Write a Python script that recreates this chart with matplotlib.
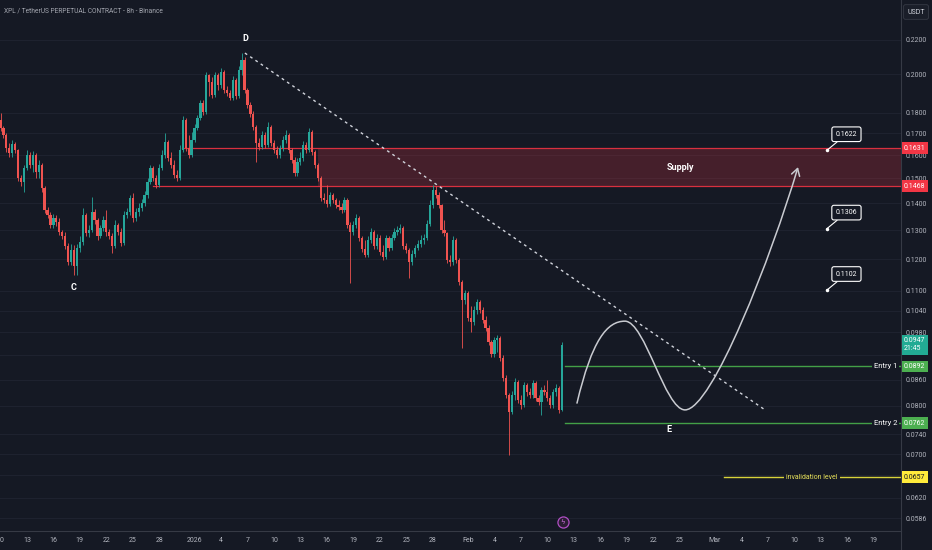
import numpy as np
import pandas as pd
import matplotlib
matplotlib.use("Agg")
import matplotlib.pyplot as plt
import matplotlib.dates as mdates
from matplotlib.path import Path
from matplotlib.patches import FancyArrowPatch, Rectangle
from matplotlib.ticker import NullLocator
from matplotlib.lines import Line2D

plt.rcParams['font.family'] = ['Liberation Sans Narrow', 'Roboto', 'DejaVu Sans']

# ---------------- data ----------------
first_open = 0.1763
closes = [
    0.1725, 0.1692, 0.1632, 0.1610, 0.1650, 0.1623, 0.1502, 0.1485, 0.1544, 0.1601,
    0.1557, 0.1601, 0.1527, 0.1557, 0.1461, 0.1375, 0.1356, 0.1319, 0.1345, 0.1330,
    0.1294, 0.1279, 0.1245, 0.1191, 0.1231, 0.1178, 0.1238, 0.1258, 0.1356, 0.1290,
    0.1301, 0.1367, 0.1337, 0.1279, 0.1308, 0.1337, 0.1294, 0.1279, 0.1245, 0.1319,
    0.1294, 0.1255, 0.1356, 0.1367, 0.1421, 0.1345, 0.1367, 0.1383, 0.1402, 0.1433,
    0.1485, 0.1544, 0.1502, 0.1473, 0.1544, 0.1601, 0.1659, 0.1588, 0.1557, 0.1515,
    0.1502, 0.1623, 0.1763, 0.1632, 0.1601, 0.1669, 0.1725, 0.1773, 0.1848, 0.1803,
    0.1997, 0.1959, 0.1890, 0.1997, 0.1943, 0.2014, 0.1916, 0.1900, 0.1874, 0.1970,
    0.1884, 0.2025, 0.2082, 0.1916, 0.1838, 0.1793, 0.1730, 0.1655, 0.1637, 0.1692,
    0.1646, 0.1730, 0.1655, 0.1623, 0.1601, 0.1632, 0.1669, 0.1692, 0.1623, 0.1579,
    0.1523, 0.1570, 0.1588, 0.1646, 0.1623, 0.1706, 0.1614, 0.1557, 0.1502, 0.1421,
    0.1413, 0.1398, 0.1433, 0.1413, 0.1394, 0.1386, 0.1375, 0.1413, 0.1319, 0.1294,
    0.1319, 0.1345, 0.1272, 0.1234, 0.1214, 0.1265, 0.1294, 0.1245, 0.1272, 0.1224,
    0.1207, 0.1272, 0.1238, 0.1272, 0.1294, 0.1301, 0.1308, 0.1245, 0.1231, 0.1191,
    0.1217, 0.1238, 0.1251, 0.1265, 0.1272, 0.1323, 0.1394, 0.1453, 0.1433, 0.1394,
    0.1301, 0.1290, 0.1197, 0.1191, 0.1265, 0.1197, 0.1127, 0.1072, 0.1093, 0.1020,
    0.1009, 0.1043, 0.1066, 0.1043, 0.1014, 0.0992, 0.0954, 0.0923, 0.0960, 0.0965,
    0.0913, 0.0864, 0.0824, 0.0786, 0.0824, 0.0854, 0.0813, 0.0802, 0.0847, 0.0831,
    0.0824, 0.0852, 0.0817, 0.0808, 0.0836, 0.0831, 0.0817, 0.0802, 0.0831, 0.0840,
    0.0791, 0.0947,
]
highs = [
    0.1798, 0.1734, 0.1701, 0.1655, 0.1669, 0.1659, 0.1628, 0.1515, 0.1557, 0.1623,
    0.1614, 0.1619, 0.1610, 0.1579, 0.1566, 0.1469, 0.1386, 0.1367, 0.1360, 0.1356,
    0.1345, 0.1301, 0.1294, 0.1255, 0.1251, 0.1248, 0.1251, 0.1279, 0.1383, 0.1363,
    0.1319, 0.1425, 0.1379, 0.1345, 0.1319, 0.1352, 0.1375, 0.1305, 0.1290, 0.1337,
    0.1326, 0.1308, 0.1371, 0.1383, 0.1433, 0.1441, 0.1383, 0.1402, 0.1417, 0.1449,
    0.1502, 0.1557, 0.1553, 0.1515, 0.1561, 0.1623, 0.1701, 0.1669, 0.1614, 0.1579,
    0.1536, 0.1646, 0.1783, 0.1773, 0.1692, 0.1706, 0.1744, 0.1788, 0.1864, 0.1864,
    0.2014, 0.2003, 0.1986, 0.2014, 0.2008, 0.2036, 0.2025, 0.1937, 0.1916, 0.1992,
    0.1981, 0.2047, 0.2122, 0.2099, 0.1927, 0.1853, 0.1808, 0.1739, 0.1678, 0.1711,
    0.1706, 0.1754, 0.1739, 0.1669, 0.1641, 0.1646, 0.1687, 0.1715, 0.1701, 0.1632,
    0.1592, 0.1588, 0.1614, 0.1664, 0.1659, 0.1725, 0.1715, 0.1623, 0.1566, 0.1510,
    0.1441, 0.1473, 0.1445, 0.1441, 0.1421, 0.1413, 0.1402, 0.1425, 0.1421, 0.1330,
    0.1334, 0.1360, 0.1352, 0.1279, 0.1265, 0.1279, 0.1308, 0.1301, 0.1287, 0.1283,
    0.1248, 0.1283, 0.1279, 0.1287, 0.1308, 0.1315, 0.1323, 0.1315, 0.1255, 0.1238,
    0.1231, 0.1248, 0.1265, 0.1283, 0.1287, 0.1337, 0.1413, 0.1473, 0.1469, 0.1445,
    0.1398, 0.1337, 0.1294, 0.1214, 0.1279, 0.1272, 0.1204, 0.1133, 0.1102, 0.1099,
    0.1054, 0.1054, 0.1075, 0.1072, 0.1051, 0.1025, 0.1000, 0.0960, 0.0968, 0.0973,
    0.0970, 0.0921, 0.0871, 0.0829, 0.0833, 0.0864, 0.0859, 0.0824, 0.0854, 0.0852,
    0.0840, 0.0859, 0.0857, 0.0824, 0.0843, 0.0847, 0.0859, 0.0824, 0.0838, 0.0850,
    0.0845, 0.0955,
]
lows = [
    0.1711, 0.1678, 0.1614, 0.1592, 0.1592, 0.1610, 0.1490, 0.1469, 0.1445, 0.1536,
    0.1544, 0.1527, 0.1502, 0.1502, 0.1445, 0.1363, 0.1345, 0.1308, 0.1308, 0.1315,
    0.1283, 0.1269, 0.1234, 0.1181, 0.1181, 0.1149, 0.1149, 0.1224, 0.1248, 0.1279,
    0.1276, 0.1294, 0.1323, 0.1265, 0.1272, 0.1297, 0.1279, 0.1269, 0.1221, 0.1238,
    0.1283, 0.1245, 0.1248, 0.1345, 0.1356, 0.1330, 0.1334, 0.1352, 0.1371, 0.1390,
    0.1421, 0.1477, 0.1490, 0.1461, 0.1465, 0.1536, 0.1588, 0.1574, 0.1544, 0.1502,
    0.1490, 0.1494, 0.1614, 0.1619, 0.1588, 0.1592, 0.1659, 0.1715, 0.1763, 0.1788,
    0.1793, 0.1884, 0.1874, 0.1879, 0.1916, 0.1927, 0.1900, 0.1884, 0.1864, 0.1864,
    0.1869, 0.1874, 0.1997, 0.1900, 0.1823, 0.1778, 0.1715, 0.1570, 0.1623, 0.1628,
    0.1632, 0.1637, 0.1641, 0.1610, 0.1588, 0.1588, 0.1619, 0.1655, 0.1610, 0.1566,
    0.1510, 0.1510, 0.1557, 0.1574, 0.1610, 0.1614, 0.1601, 0.1544, 0.1490, 0.1410,
    0.1402, 0.1386, 0.1390, 0.1402, 0.1383, 0.1375, 0.1363, 0.1367, 0.1308, 0.1123,
    0.1283, 0.1308, 0.1262, 0.1224, 0.1207, 0.1207, 0.1255, 0.1234, 0.1234, 0.1214,
    0.1197, 0.1201, 0.1227, 0.1231, 0.1265, 0.1283, 0.1290, 0.1234, 0.1221, 0.1139,
    0.1181, 0.1207, 0.1231, 0.1241, 0.1251, 0.1265, 0.1315, 0.1383, 0.1421, 0.1383,
    0.1290, 0.1279, 0.1187, 0.1178, 0.1181, 0.1187, 0.1117, 0.0939, 0.1060, 0.1011,
    0.0981, 0.1000, 0.1031, 0.1034, 0.1006, 0.0984, 0.0946, 0.0916, 0.0916, 0.0928,
    0.0905, 0.0857, 0.0817, 0.0698, 0.0782, 0.0813, 0.0806, 0.0793, 0.0797, 0.0822,
    0.0817, 0.0817, 0.0811, 0.0802, 0.0780, 0.0824, 0.0811, 0.0795, 0.0795, 0.0822,
    0.0784, 0.0788,
]
last_candle_time = "2026-02-11 16:00"

y_ticks = [0.2200, 0.2000, 0.1800, 0.1700, 0.1600, 0.1500, 0.1400, 0.1300, 0.1200,
           0.1100, 0.1040, 0.0980, 0.0860, 0.0800, 0.0740, 0.0700, 0.0620, 0.0586]
y_tick_labels = ["%.4f" % v for v in y_ticks]
hidden_grid_levels = [0.0920, 0.0660]

x_tick_dates = ["2025-12-10", "2025-12-13", "2025-12-16", "2025-12-19", "2025-12-22",
                "2025-12-25", "2025-12-28", "2026-01-01", "2026-01-04", "2026-01-07",
                "2026-01-10", "2026-01-13", "2026-01-16", "2026-01-19", "2026-01-22",
                "2026-01-25", "2026-01-28", "2026-02-01", "2026-02-04", "2026-02-07",
                "2026-02-10", "2026-02-13", "2026-02-16", "2026-02-19", "2026-02-22",
                "2026-02-25", "2026-03-01", "2026-03-04", "2026-03-07", "2026-03-10",
                "2026-03-13", "2026-03-16", "2026-03-19"]
x_tick_labels = ["10", "13", "16", "19", "22", "25", "28", "2026", "4", "7", "10", "13",
                 "16", "19", "22", "25", "28", "Feb", "4", "7", "10", "13", "16", "19",
                 "22", "25", "Mar", "4", "7", "10", "13", "16", "19"]

# drawings (time, price)
supply_top, supply_bottom = 0.1631, 0.1468
supply_top_from = "2025-12-30 14:00"
supply_bottom_from = "2025-12-27 07:00"
supply_fill_from = "2026-01-15 00:00"
trend_times = ["2026-01-06 17:00", "2026-03-06 16:20"]
trend_prices = [0.2122, 0.0791]
entry_prices = [0.0892, 0.0762]
entry_names = ["Entry 1", "Entry 2"]
entry_from = "2026-02-12 00:00"
invalid_price = 0.0657
invalid_from = "2026-03-02 00:45"
invalid_text_time = "2026-03-12 00:00"
target_prices = [0.1622, 0.1306, 0.1102]
target_time = "2026-03-13 17:00"
last_price = 0.0947
path_times = ["2026-02-13 08:40", "2026-02-15 01:30", "2026-02-16 18:15", "2026-02-18 19:10",
              "2026-02-21 01:40", "2026-02-23 08:10", "2026-02-25 14:40",
              "2026-02-28 16:05", "2026-03-07 10:00", "2026-03-10 10:05"]
path_prices = [0.0806, 0.0960, 0.1011, 0.1011, 0.1011, 0.0791, 0.0791, 0.0791, 0.1210, 0.1548]
labels_wave = [("D", "2026-01-06 17:20", 0.2212), ("C", "2025-12-18 08:00", 0.1111),
               ("E", "2026-02-23 19:00", 0.0750)]

# ---------------- styles ----------------
BG = "#151924"
GRID = "#1f2330"
TXT = "#b2b5be"
UP = "#26a69a"
DOWN = "#ef5350"
RED = "#f23645"

def dn(s):
    return mdates.date2num(pd.Timestamp(s))

fig = plt.figure(figsize=(9.32, 5.5), dpi=100, facecolor=BG)
ax = fig.add_axes([0, 19 / 550, 901 / 932, 531 / 550], facecolor=BG)
ax.set_yscale("log")

times = pd.date_range(end=last_candle_time, periods=len(closes), freq="8h")
t = mdates.date2num(times)
c = np.array(closes)
o = np.r_[first_open, c[:-1]]
h = np.array(highs)
l = np.array(lows)
cols = np.where(c >= o, UP, DOWN)

# axes limits
t0 = dn("2025-12-10 00:00") - 0.5 / 8.82
ax.set_xlim(t0, t0 + 901 / 8.82)
ax.set_ylim(0.05659, 0.24573)

# grid / ticks
ax.set_yticks(y_ticks)
ax.set_yticklabels(y_tick_labels)
ax.yaxis.set_minor_locator(NullLocator())
ax.yaxis.tick_right()
ax.set_xticks([dn(d) for d in x_tick_dates])
ax.set_xticklabels(x_tick_labels)
ax.xaxis.set_minor_locator(NullLocator())
ax.tick_params(axis="both", length=0, labelsize=5, labelcolor=TXT)
ax.tick_params(axis="y", pad=3.5)
ax.tick_params(axis="x", pad=4)
ax.yaxis.grid(True, color=GRID, lw=0.7)
for g in hidden_grid_levels:
    ax.axhline(g, color=GRID, lw=0.7, zorder=0.5)
ax.set_axisbelow(True)
for s in ["top", "left"]:
    ax.spines[s].set_visible(False)
for s in ["right", "bottom"]:
    ax.spines[s].set_color("#363a45")
    ax.spines[s].set_linewidth(0.8)
fig.add_artist(Line2D([901 / 932, 901 / 932], [0, 19 / 550], color="#363a45", lw=0.8))

xmax = ax.get_xlim()[1]

# supply zone
ax.add_patch(Rectangle((dn(supply_fill_from), supply_bottom), xmax - dn(supply_fill_from),
                       supply_top - supply_bottom, facecolor=RED, alpha=0.22, edgecolor="none", zorder=1))
ax.plot([dn(supply_top_from), xmax], [supply_top, supply_top], color="#d9303f", lw=0.9, zorder=2)
ax.plot([dn(supply_bottom_from), xmax], [supply_bottom, supply_bottom], color="#d9303f", lw=0.9, zorder=2)
ax.text(dn("2026-02-25 01:00"), np.sqrt(supply_top * supply_bottom), "Supply", color="white",
        fontsize=6.5, fontweight="bold", ha="center", va="center", zorder=5)

# candles
ax.vlines(t, l, h, colors=cols, linewidth=0.6, zorder=3)
ax.bar(t, np.abs(c - o), bottom=np.minimum(o, c), width=0.25, color=cols, linewidth=0, zorder=4)

# trend line
ax.plot([dn(s) for s in trend_times], trend_prices, color="#d1d4dc", lw=1.0,
        linestyle=(0, (2, 2.6)), zorder=5)

# entries
ax_y = ax.get_yaxis_transform()
for p, name in zip(entry_prices, entry_names):
    ax.plot([dn(entry_from), xmax], [p, p], color="#43a047", lw=1.0, zorder=5)
    ax.text(897 / 901, p, name, transform=ax_y, ha="right", va="center", color="white",
            fontsize=5.5, zorder=6, bbox=dict(boxstyle="square,pad=0.25", fc=BG, ec="none"))

# invalidation
ax.plot([dn(invalid_from), xmax], [invalid_price, invalid_price], color="#d8d23a", lw=1.0, zorder=5)
ax.text(dn(invalid_text_time), invalid_price, "invalidation level", ha="center", va="center",
        color="#e6e05a", fontsize=5, zorder=6, bbox=dict(boxstyle="square,pad=0.3", fc=BG, ec="none"))

# projection path
pts = [(dn(a), b) for a, b in zip(path_times, path_prices)]
codes = [Path.MOVETO] + [Path.CURVE4] * 9
arrow = FancyArrowPatch(path=Path(pts, codes), arrowstyle="->,head_length=0.5,head_width=0.3",
                        mutation_scale=10, color="#c9cbd1", lw=1.1, transform=ax.transData, zorder=6)
ax.add_patch(arrow)

# wave labels
for txt, tm, pr in labels_wave:
    ax.text(dn(tm), pr, txt, color="white", fontsize=6.5, fontweight="bold",
            ha="center", va="center", zorder=7)

# target callouts
for p in target_prices:
    ax.plot([dn(target_time)], [p], marker="o", ms=1.5, color="white", zorder=7)
    ax.annotate("%.4f" % p, xy=(dn(target_time), p), xytext=(14, 11.5), textcoords="offset points",
                ha="center", va="center", color="white", fontsize=5, zorder=7,
                bbox=dict(boxstyle="round,pad=0.55,rounding_size=0.3", fc=BG, ec="white", lw=0.8),
                arrowprops=dict(arrowstyle="-", color="white", lw=0.8, shrinkA=0, shrinkB=0))

# right-axis price labels
def plabel(price, text, fc, tc="white"):
    ax.text(1 + 3 / 901, price, text, transform=ax_y, ha="left", va="center", color=tc,
            fontsize=5, zorder=10, clip_on=False,
            bbox=dict(boxstyle="square,pad=0.35", fc=fc, ec="none"))

plabel(supply_top, "%.4f" % supply_top, RED)
plabel(supply_bottom, "%.4f" % supply_bottom, RED)
plabel(last_price, "%.4f\n21:45" % last_price, "#22ab94")
plabel(entry_prices[0], "%.4f" % entry_prices[0], "#4caf50")
plabel(entry_prices[1], "%.4f" % entry_prices[1], "#4caf50")
plabel(invalid_price, "%.4f" % invalid_price, "#ffeb3b", tc="#131722")

# lightning marker
ax.plot([dn("2026-02-11 18:45")], [0.017], transform=ax.get_xaxis_transform(), marker="o", ms=8,
        mfc="#2a1d33", mec="#b04fc4", mew=0.9, clip_on=False, zorder=8)
ax.text(dn("2026-02-11 18:45"), 0.017, "\u03DF", transform=ax.get_xaxis_transform(),
        ha="center", va="center", fontsize=5, color="#d070e0", zorder=9,
        family=["DejaVu Sans"])

# title and unit box
fig.text(4 / 932, 1 - 11 / 550, "XPL / TetherUS PERPETUAL CONTRACT - 8h - Binance",
         color="#a3a6af", fontsize=4.8, ha="left", va="center")
fig.text(916 / 932, 1 - 12 / 550, "USDT", color="#d1d4dc", fontsize=5, ha="center", va="center",
         bbox=dict(boxstyle="round,pad=0.55,rounding_size=0.3", fc="#1a1e29", ec="#363a45", lw=0.6))

fig.savefig("out.png", dpi=100, facecolor=BG)
